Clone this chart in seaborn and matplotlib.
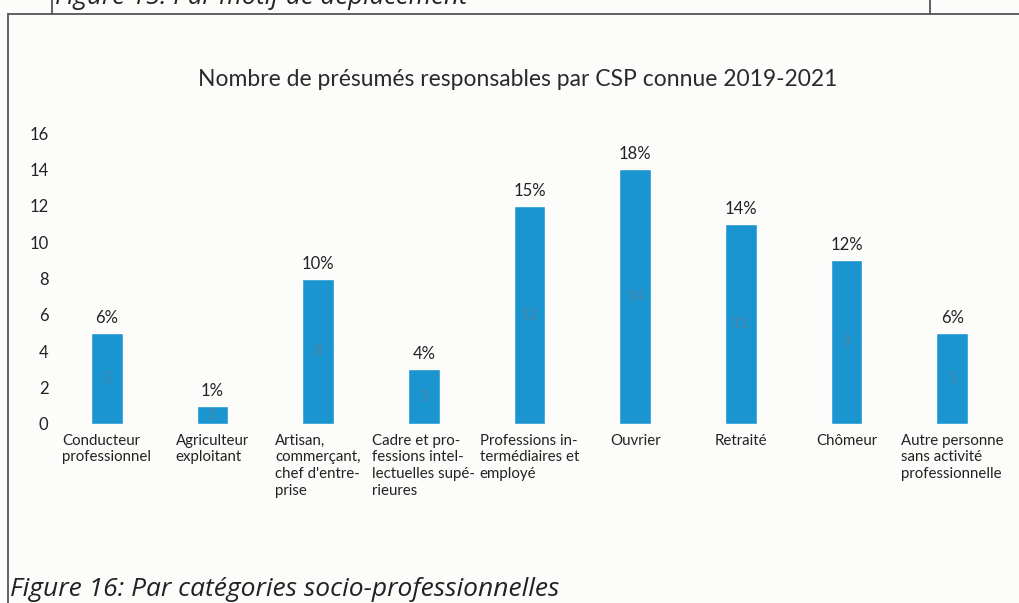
import matplotlib
matplotlib.use("Agg")
import matplotlib.pyplot as plt
from matplotlib.lines import Line2D
import pandas as pd
import seaborn as sns

# Data
categories = [
    "Conducteur\nprofessionnel",
    "Agriculteur\nexploitant",
    "Artisan,\ncommerçant,\nchef d'entre-\nprise",
    "Cadre et pro-\nfessions intel-\nlectuelles supé-\nrieures",
    "Professions in-\ntermédiaires et\nemployé",
    "Ouvrier",
    "Retraité",
    "Chômeur",
    "Autre personne\nsans activité\nprofessionnelle",
]
counts = [5, 1, 8, 3, 12, 14, 11, 9, 5]
shares = ["6%", "1%", "10%", "4%", "15%", "18%", "14%", "12%", "6%"]
y_ticks = [0, 2, 4, 6, 8, 10, 12, 14, 16]

title = "Nombre de présumés responsables par CSP connue 2019-2021"
caption = "Figure 16: Par catégories socio-professionnelles"
caption_prev = "Figure 15: Par motif de déplacement"

df = pd.DataFrame({"csp": categories, "n": counts})

sns.set_theme(style="white")
plt.rcParams["font.family"] = ["Lato", "DejaVu Sans"]

W, H = 1019, 603
bg = "#fcfcfa"
fig = plt.figure(figsize=(W / 100, H / 100), dpi=100, facecolor=bg)

def px(x0, y0, x1, y1):
    return [x0 / W, 1 - y1 / H, (x1 - x0) / W, (y1 - y0) / H]

ax = fig.add_axes(px(54, 133, 1005, 424))
ax.set_facecolor(bg)

bar_color = "#1a95d0"
sns.barplot(data=df, x="csp", y="n", color=bar_color, saturation=1,
            width=0.30, ax=ax, errorbar=None)

ax.set_ylim(0, 16)
ax.set_yticks(y_ticks)
ax.set_yticklabels([str(v) for v in y_ticks], fontsize=12, color="#222222")
ax.set_xticks(range(len(categories)))
ax.set_xticklabels(categories, fontsize=10.8, color="#222222",
                   ha="center", multialignment="left", linespacing=1.25)
ax.tick_params(axis="y", length=0, pad=4)
ax.tick_params(axis="x", length=0, pad=7)
ax.set_xlabel("")
ax.set_ylabel("")
for s in ax.spines.values():
    s.set_visible(False)

cont = ax.containers[0]
ax.bar_label(cont, labels=shares, padding=5, fontsize=12, color="#222222")
ax.bar_label(cont, labels=[str(v) for v in counts], label_type="center",
             fontsize=11, color="#4a82a8")

fig.text(518 / W, 1 - 80 / H, title, ha="center", va="center",
         fontsize=16.5, color="#2a2a2a")

cap_font = ["Open Sans", "DejaVu Sans"]
fig.text(10 / W, 1 - 596 / H, caption, ha="left", va="baseline",
         fontsize=19, style="italic", family=cap_font, color="#222222")
fig.text(55 / W, 1 - 4 / H, caption_prev, ha="left", va="baseline",
         fontsize=18.5, style="italic", family=cap_font, color="#222222")

# Frame lines
line_kw = dict(color="#555555", linewidth=1.3, transform=fig.transFigure)
fig.add_artist(Line2D([8 / W, 1], [1 - 14 / H, 1 - 14 / H], **line_kw))
fig.add_artist(Line2D([8 / W, 8 / W], [1 - 14 / H, 0], **line_kw))
fig.add_artist(Line2D([52 / W, 52 / W], [1, 1 - 14 / H], **line_kw))
fig.add_artist(Line2D([930 / W, 930 / W], [1, 1 - 14 / H], **line_kw))

fig.savefig("out.png", dpi=100, facecolor=bg)
